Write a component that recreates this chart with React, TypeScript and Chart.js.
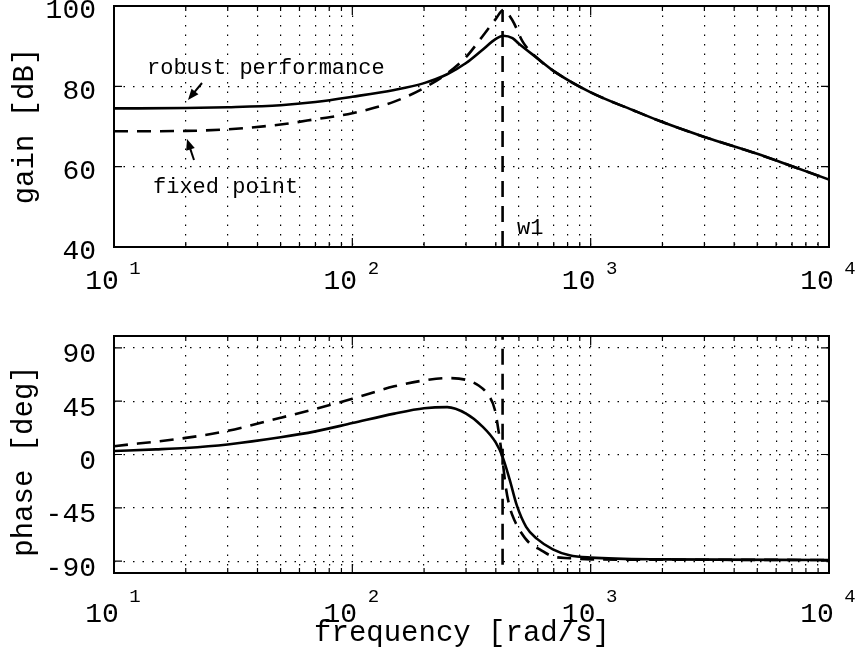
import React, { useEffect, useRef } from "react";
import { Chart, registerables } from "chart.js";

Chart.register(...registerables);

const FONT = '"Liberation Mono", "DejaVu Sans Mono", monospace';

// ---- data ----
const gainRobustFreq = [10, 20, 30, 50, 70, 100, 150, 200, 250, 300, 350, 400, 430, 470, 500, 600, 700, 1000, 1500, 2000, 3000, 5000, 7000, 10000];
const gainRobust = [74.5, 74.6, 74.8, 75.3, 76.1, 77.4, 79.1, 80.8, 83.0, 85.8, 89.0, 91.8, 92.6, 92.0, 90.6, 86.9, 83.8, 78.5, 74.1, 71.1, 67.4, 63.2, 60.1, 56.8];

const gainFixedFreq = [10, 20, 30, 50, 70, 100, 150, 200, 250, 300, 350, 400, 430, 470, 520, 600, 700, 1000, 1500, 2000, 3000, 5000, 7000, 10000];
const gainFixed = [68.8, 68.9, 69.3, 70.5, 71.8, 73.3, 76.2, 79.6, 83.2, 87.3, 92.3, 96.8, 99.0, 96.4, 91.0, 86.9, 83.8, 78.5, 74.1, 71.1, 67.4, 63.2, 60.1, 56.8];

const phaseRobustFreq = [10, 15, 20, 30, 50, 70, 100, 150, 200, 250, 300, 350, 400, 427, 457, 490, 536, 594, 694, 815, 1000, 2000, 10000];
const phaseRobust = [3, 4.3, 5.5, 8.5, 14.5, 19.5, 26.5, 34.5, 39, 40, 34.5, 24, 10, -2, -21, -43, -61, -71, -80, -85, -87, -88.5, -89];

const phaseFixedFreq = [10, 20, 30, 50, 70, 100, 150, 200, 250, 300, 340, 366, 396, 412, 427, 440, 457, 480, 504, 555, 611, 693, 817, 1000, 2000, 10000];
const phaseFixed = [7, 14, 20, 31, 38.5, 47, 57.5, 62.5, 64.5, 63, 58, 52, 38, 18, -5, -27, -44, -56, -64, -75, -80, -86, -87.5, -88.5, -88.8, -89];

const w1Freq = 427;
const w1GainSpan = [40, 99];
const w1PhaseSpan = [-93, 100];

const gainTicks = [40, 60, 80, 100];
const phaseTicks = [-90, -45, 0, 45, 90];
const decadeValues = [10, 100, 1000, 10000];
const decadeExponents = ["1", "2", "3", "4"];
const gainLabel = "gain [dB]";
const phaseLabel = "phase [deg]";
const freqLabel = "frequency [rad/s]";
const robustText = "robust performance";
const fixedText = "fixed point";
const w1Text = "w1";

function pts(xs: number[], ys: number[]) {
  return xs.map((x, i) => ({ x, y: ys[i] }));
}

function gridFreqs() {
  const out: number[] = [];
  for (let d = 10; d < 10000; d *= 10) {
    for (let m = 1; m < 10; m++) out.push(d * m);
  }
  out.push(10000);
  return out;
}

type PanelCfg = {
  height: number;
  top: number;
  bottom: number;
  yMin: number;
  yMax: number;
  yTicks: number[];
  yTitle: string;
  yTitleX: number;
  yTitleY: number;
  yLabelOffset: number;
  xLabelY: number;
  xExpY: number;
  datasets: any[];
  extra?: (ctx: CanvasRenderingContext2D, chart: any) => void;
};

function arrow(ctx: CanvasRenderingContext2D, x0: number, y0: number, x1: number, y1: number) {
  const ang = Math.atan2(y1 - y0, x1 - x0);
  const hl = 11, hw = 4.5;
  ctx.save();
  ctx.strokeStyle = "#000";
  ctx.fillStyle = "#000";
  ctx.lineWidth = 2;
  ctx.beginPath();
  ctx.moveTo(x0, y0);
  ctx.lineTo(x1 - Math.cos(ang) * hl * 0.8, y1 - Math.sin(ang) * hl * 0.8);
  ctx.stroke();
  ctx.beginPath();
  ctx.moveTo(x1, y1);
  ctx.lineTo(x1 - Math.cos(ang) * hl - Math.sin(ang) * hw, y1 - Math.sin(ang) * hl + Math.cos(ang) * hw);
  ctx.lineTo(x1 - Math.cos(ang) * hl + Math.sin(ang) * hw, y1 - Math.sin(ang) * hl - Math.cos(ang) * hw);
  ctx.closePath();
  ctx.fill();
  ctx.restore();
}

function makeChart(canvas: HTMLCanvasElement, cfg: PanelCfg) {
  const decor = {
    id: "decor",
    afterDraw(chart: any) {
      const ctx: CanvasRenderingContext2D = chart.ctx;
      const a = chart.chartArea;
      const xs = chart.scales.x;
      const ys = chart.scales.y;
      ctx.save();
      // inner tick marks
      ctx.strokeStyle = "#000";
      ctx.lineWidth = 1.2;
      ctx.beginPath();
      for (const f of gridFreqs()) {
        const px = xs.getPixelForValue(f);
        const len = decadeValues.includes(f) ? 9 : 5;
        ctx.moveTo(px, a.bottom);
        ctx.lineTo(px, a.bottom - len);
        ctx.moveTo(px, a.top);
        ctx.lineTo(px, a.top + len);
      }
      for (const t of cfg.yTicks) {
        const py = ys.getPixelForValue(t);
        ctx.moveTo(a.left, py);
        ctx.lineTo(a.left + 8, py);
        ctx.moveTo(a.right, py);
        ctx.lineTo(a.right - 8, py);
      }
      ctx.stroke();
      // frame
      ctx.lineWidth = 2;
      ctx.strokeRect(a.left, a.top, a.right - a.left, a.bottom - a.top);

      ctx.fillStyle = "#000";
      // y tick labels
      ctx.font = `28px ${FONT}`;
      ctx.textAlign = "right";
      ctx.textBaseline = "middle";
      for (const t of cfg.yTicks) {
        const py = ys.getPixelForValue(t);
        ctx.fillText(String(t), 96, py + cfg.yLabelOffset);
      }
      // x tick labels 10^n
      decadeValues.forEach((v, i) => {
        const px = xs.getPixelForValue(v);
        ctx.font = `28px ${FONT}`;
        ctx.textAlign = "center";
        ctx.textBaseline = "middle";
        ctx.fillText("10", px - 12, cfg.xLabelY);
        ctx.font = `19px ${FONT}`;
        ctx.fillText(decadeExponents[i], px + 21, cfg.xExpY);
      });
      // y title
      ctx.save();
      ctx.translate(cfg.yTitleX, cfg.yTitleY);
      ctx.rotate(-Math.PI / 2);
      ctx.font = `29px ${FONT}`;
      ctx.textAlign = "center";
      ctx.textBaseline = "middle";
      ctx.fillText(cfg.yTitle, 0, 0);
      ctx.restore();
      if (cfg.extra) cfg.extra(ctx, chart);
      ctx.restore();
    },
  };

  const gridCommon = {
    color: "#000",
    lineWidth: 1.2,
    drawTicks: false,
  };

  return new Chart(canvas, {
    type: "line",
    data: { datasets: cfg.datasets },
    plugins: [decor],
    options: {
      animation: false,
      responsive: false,
      maintainAspectRatio: false,
      events: [],
      layout: { padding: { top: cfg.top, right: 27, left: 0, bottom: 0 } },
      plugins: { legend: { display: false }, tooltip: { enabled: false } },
      elements: { point: { radius: 0 } },
      scales: {
        x: {
          type: "logarithmic",
          min: 10,
          max: 10000,
          afterBuildTicks: (s: any) => {
            s.ticks = gridFreqs().map((v) => ({ value: v }));
          },
          afterFit: (s: any) => {
            s.height = cfg.height - cfg.bottom;
          },
          ticks: { display: false },
          grid: gridCommon,
          border: { display: false, dash: [1.5, 8] },
        },
        y: {
          type: "linear",
          min: cfg.yMin,
          max: cfg.yMax,
          afterBuildTicks: (s: any) => {
            s.ticks = cfg.yTicks.map((v) => ({ value: v }));
          },
          afterFit: (s: any) => {
            s.width = 114;
          },
          ticks: { display: false },
          grid: gridCommon,
          border: { display: false, dash: [1.5, 8] },
        },
      },
    } as any,
  });
}

function lineDs(data: any[], dash: number[] | undefined, smooth = true) {
  return {
    data,
    borderColor: "#000",
    borderWidth: 2.6,
    borderDash: dash || [],
    pointRadius: 0,
    fill: false,
    tension: smooth ? 0.4 : 0,
    cubicInterpolationMode: smooth ? "monotone" : "default",
  };
}

export default function App() {
  const topRef = useRef<HTMLCanvasElement>(null);
  const botRef = useRef<HTMLCanvasElement>(null);

  useEffect(() => {
    const top = makeChart(topRef.current!, {
      height: 300,
      top: 6,
      bottom: 247,
      yMin: 40,
      yMax: 100,
      yTicks: gainTicks,
      yTitle: gainLabel,
      yTitleX: 25,
      yTitleY: 126,
      yLabelOffset: 5,
      xLabelY: 282,
      xExpY: 269,
      datasets: [
        lineDs(pts(gainRobustFreq, gainRobust), undefined),
        lineDs(pts(gainFixedFreq, gainFixed), [14, 9]),
        lineDs(pts([w1Freq, w1Freq], w1GainSpan), [16, 9], false),
      ],
      extra: (ctx) => {
        ctx.font = `22px ${FONT}`;
        ctx.textAlign = "left";
        ctx.textBaseline = "middle";
        ctx.fillText(robustText, 147, 68);
        ctx.fillText(fixedText, 153, 187);
        ctx.fillText(w1Text, 517, 228);
        arrow(ctx, 202, 83, 188, 100);
        arrow(ctx, 194, 160, 187, 139);
      },
    });
    const bot = makeChart(botRef.current!, {
      height: 354,
      top: 36,
      bottom: 273,
      yMin: -100,
      yMax: 100,
      yTicks: phaseTicks,
      yTitle: phaseLabel,
      yTitleX: 24,
      yTitleY: 161,
      yLabelOffset: 7,
      xLabelY: 315,
      xExpY: 297,
      datasets: [
        lineDs(pts(phaseRobustFreq, phaseRobust), undefined),
        lineDs(pts(phaseFixedFreq, phaseFixed), [14, 9]),
        lineDs(pts([w1Freq, w1Freq], w1PhaseSpan), [16, 9], false),
      ],
      extra: (ctx) => {
        ctx.font = `29px ${FONT}`;
        ctx.textAlign = "center";
        ctx.textBaseline = "middle";
        ctx.fillText(freqLabel, 462, 333);
      },
    });
    return () => {
      top.destroy();
      bot.destroy();
    };
  }, []);

  return (
    <div style={{ position: "fixed", left: 0, top: 0, width: 856, height: 654, background: "#fff" }}>
      <canvas ref={topRef} width={856} height={300} style={{ position: "absolute", left: 0, top: 0 }} />
      <canvas ref={botRef} width={856} height={354} style={{ position: "absolute", left: 0, top: 300 }} />
    </div>
  );
}
